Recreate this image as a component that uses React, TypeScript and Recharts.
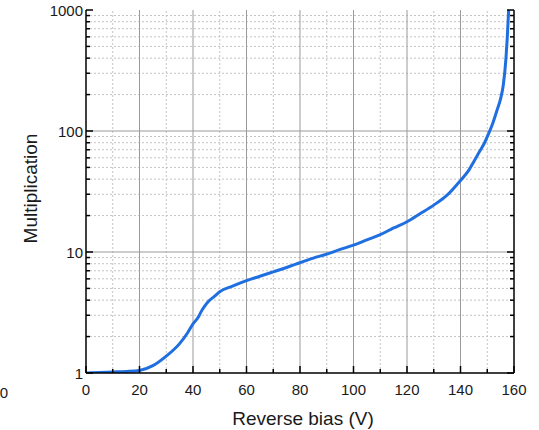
import { LineChart, Line, XAxis, YAxis, ReferenceLine } from "recharts";

// reverse bias sweep
const voltage = [
  0, 5, 10, 15, 20, 25, 30, 35, 38, 40, 42, 43, 44.5, 46, 48, 50, 55, 60, 65, 70,
  75, 80, 85, 90, 95, 100, 105, 110, 115, 120, 125, 130, 135, 140, 143, 145, 147,
  149, 150.5, 152, 153.5, 155, 156, 157, 157.5, 158,
];
const multiplication = [
  1.0, 1.01, 1.02, 1.03, 1.05, 1.15, 1.38, 1.75, 2.15, 2.55, 2.9, 3.2, 3.6, 3.95,
  4.3, 4.7, 5.25, 5.8, 6.3, 6.85, 7.45, 8.15, 8.9, 9.6, 10.5, 11.4, 12.6, 13.9,
  15.8, 17.8, 20.8, 24.4, 29.5, 39, 47, 56, 67, 80, 95, 115, 145, 185, 240, 400,
  600, 1000,
];

const xTicks = [0, 10, 20, 30, 40, 50, 60, 70, 80, 90, 100, 110, 120, 130, 140, 150, 160];
const xMajorGrid = [20, 40, 60, 80, 100, 120, 140];
const xMinorGrid = [10, 30, 50, 70, 90, 110, 130, 150];

const yTicks = [
  1, 2, 3, 4, 5, 6, 7, 8, 9, 10, 20, 30, 40, 50, 60, 70, 80, 90, 100, 200, 300,
  400, 500, 600, 700, 800, 900, 1000,
];
const yDecades = [1, 10, 100, 1000];
const yMajorGrid = [10, 100];
const yMinorGrid = [
  2, 3, 4, 5, 6, 7, 8, 9, 20, 30, 40, 50, 60, 70, 80, 90, 200, 300, 400, 500, 600,
  700, 800, 900,
];

const data = voltage.map((v, i) => ({ v, m: multiplication[i] }));

const FONT = '"Liberation Sans", Arial, sans-serif';
const INK = "#1a1a1a";

const isMajorX = (v: number) => v % 20 === 0;
const isDecade = (v: number) => yDecades.includes(v);

function BottomTick(props: any) {
  const { x, y, payload } = props;
  const major = isMajorX(payload.value);
  return (
    <g>
      <line x1={x} x2={x} y1={y} y2={y - (major ? 7 : 4)} stroke="#000" strokeWidth={1.5} />
      {major && (
        <text x={x} y={y + 16} textAnchor="middle" dominantBaseline="central" fontSize={15} fontFamily={FONT} fill={INK}>
          {payload.value}
        </text>
      )}
    </g>
  );
}

function TopTick(props: any) {
  const { x, y, payload } = props;
  const major = isMajorX(payload.value);
  return <line x1={x} x2={x} y1={y} y2={y + (major ? 7 : 4)} stroke="#000" strokeWidth={1.5} />;
}

function LeftTick(props: any) {
  const { x, y, payload } = props;
  const major = isDecade(payload.value);
  return (
    <g>
      <line x1={x} x2={x + (major ? 7 : 4)} y1={y} y2={y} stroke="#000" strokeWidth={1.5} />
      {major && (
        <text x={x - 3} y={y} textAnchor="end" dominantBaseline="central" fontSize={15} fontFamily={FONT} fill={INK}>
          {payload.value}
        </text>
      )}
    </g>
  );
}

function RightTick(props: any) {
  const { x, y, payload } = props;
  const major = isDecade(payload.value);
  return <line x1={x} x2={x - (major ? 7 : 4)} y1={y} y2={y} stroke="#000" strokeWidth={1.5} />;
}

export default function App() {
  return (
    <div style={{ position: "absolute", left: 0, top: 0, width: 539, height: 430, background: "#fff" }}>
      <LineChart width={539} height={430} data={data} margin={{ top: 10, right: 0, bottom: 27, left: 36 }}>
        {xMinorGrid.map((v) => (
          <ReferenceLine key={"xm" + v} x={v} stroke="#c4c4c4" strokeDasharray="2 2" />
        ))}
        {yMinorGrid.map((v) => (
          <ReferenceLine key={"ym" + v} y={v} stroke="#c4c4c4" strokeDasharray="2 2" />
        ))}
        {xMajorGrid.map((v) => (
          <ReferenceLine key={"xM" + v} x={v} stroke="#9a9a9a" />
        ))}
        {yMajorGrid.map((v) => (
          <ReferenceLine key={"yM" + v} y={v} stroke="#9a9a9a" />
        ))}
        <XAxis
          dataKey="v"
          type="number"
          domain={[0, 160]}
          ticks={xTicks}
          interval={0}
          height={30}
          tickLine={false}
          tickSize={0}
          tickMargin={0}
          axisLine={{ stroke: "#000", strokeWidth: 1.5 }}
          tick={<BottomTick />}
          label={{
            content: (p: any) => {
              const vb = p.viewBox;
              return (
                <g>
                  <text x={vb.x + vb.width / 2 + 3} y={vb.y + 45} textAnchor="middle" dominantBaseline="central" fontSize={19} fontFamily={FONT} fill={INK}>
                    Reverse bias (V)
                  </text>
                  <text x={vb.x - 78} y={vb.y + 19} textAnchor="end" dominantBaseline="central" fontSize={15} fontFamily={FONT} fill={INK}>
                    0
                  </text>
                </g>
              );
            },
          }}
        />
        <XAxis
          xAxisId="top"
          orientation="top"
          type="number"
          domain={[0, 160]}
          ticks={xTicks}
          interval={0}
          height={0}
          tickLine={false}
          tickSize={0}
          tickMargin={0}
          axisLine={{ stroke: "#000", strokeWidth: 1.5 }}
          tick={<TopTick />}
        />
        <YAxis
          scale="log"
          type="number"
          domain={[1, 1000]}
          allowDataOverflow
          ticks={yTicks}
          interval={0}
          width={50}
          tickLine={false}
          tickSize={0}
          tickMargin={0}
          axisLine={{ stroke: "#000", strokeWidth: 1.5 }}
          tick={<LeftTick />}
          label={{
            content: (p: any) => {
              const vb = p.viewBox;
              const cx = vb.x - 6;
              const cy = vb.y + vb.height / 2 - 3;
              return (
                <text x={cx} y={cy} transform={`rotate(-90 ${cx} ${cy})`} textAnchor="middle" dominantBaseline="central" fontSize={19} fontFamily={FONT} fill={INK}>
                  Multiplication
                </text>
              );
            },
          }}
        />
        <YAxis
          yAxisId="right"
          orientation="right"
          scale="log"
          type="number"
          domain={[1, 1000]}
          allowDataOverflow
          ticks={yTicks}
          interval={0}
          width={25}
          tickLine={false}
          tickSize={0}
          tickMargin={0}
          axisLine={{ stroke: "#000", strokeWidth: 1.5 }}
          tick={<RightTick />}
        />
        <Line
          dataKey="m"
          type="monotone"
          stroke="#1f6fe0"
          strokeWidth={3}
          dot={false}
          isAnimationActive={false}
        />
      </LineChart>
    </div>
  );
}
